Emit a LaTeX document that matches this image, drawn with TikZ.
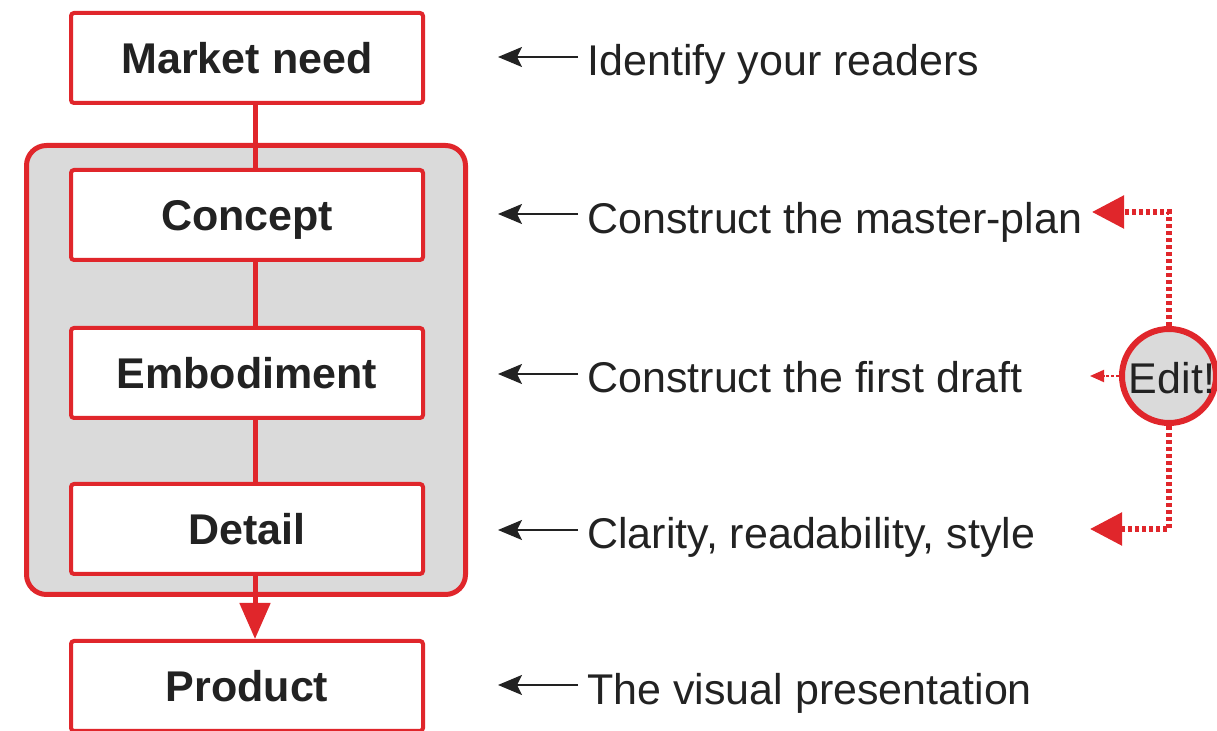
\documentclass[tikz,border=0pt]{standalone}
\usepackage{fontspec}
\setmainfont{Liberation Sans}
\usetikzlibrary{arrows.meta}
\definecolor{dred}{HTML}{E0262B}
\definecolor{lgrey}{HTML}{DADADA}
\definecolor{ink}{HTML}{222222}
\begin{document}
\begin{tikzpicture}[x=0.5pt,y=-0.5pt,
  stagebox/.style={draw=dred,line width=2pt,fill=white,rounded corners=1.5pt,
    minimum width=176pt,minimum height=45pt,inner sep=0pt,
    font=\fontsize{21.5}{24}\selectfont\bfseries,text=ink,
    text height=15.5pt,text depth=0pt},
  note/.style={anchor=west,inner sep=0pt,font=\fontsize{21.5}{24}\selectfont,
    text=ink,text height=15.4pt,text depth=0pt},
  pointer/.style={-{Stealth[length=12pt,width=10pt,inset=2.5pt]},line width=1pt,draw=ink,shorten <=4.5pt},
  spine/.style={draw=dred,line width=2.5pt},
  editline/.style={draw=dred,line width=2.75pt,dash pattern=on 2pt off 1.5pt,
    -{Triangle[length=16pt,width=16pt]}},
  groupbox/.style={draw=dred,line width=2.5pt,fill=lgrey,rounded corners=10pt,
    minimum width=219.5pt,minimum height=224.5pt,inner sep=0pt}
]
\useasboundingbox (0,0) rectangle (1217,731);

\node[groupbox] (group) at (246,370) {};

\node[stagebox] (market) at (247,58) {Market need};
\node[stagebox] (concept) at (247,215) {Concept};
\node[stagebox] (embodiment) at (247,373) {Embodiment};
\node[stagebox] (detail) at (247,529) {Detail};
\node[stagebox] (product) at (247,686) {Product};

\draw[spine] ([xshift=4pt]market.south) -- ([xshift=4pt]concept.north);
\draw[spine] ([xshift=4pt]concept.south) -- ([xshift=4pt]embodiment.north);
\draw[spine] ([xshift=4pt]embodiment.south) -- ([xshift=4pt]detail.north);
\draw[spine,-{Triangle[length=18pt,width=15pt]}] ([xshift=4pt]detail.south) -- ([xshift=4pt]product.north);

\node[note] (t1) at (587,60) {Identify your readers};
\node[note] (t2) at (587,218) {Construct the master-plan};
\node[note] (t3) at (587,377) {Construct the first draft};
\node[note] (t4) at (587,533) {Clarity, readability, style};
\node[note] (t5) at (587,689) {The visual presentation};

\coordinate (p1) at (498,57);
\coordinate (p2) at (498,214);
\coordinate (p3) at (498,374);
\coordinate (p4) at (498,530);
\coordinate (p5) at (498,685);
\draw[pointer] (t1.west |- p1) -- (p1);
\draw[pointer] (t2.west |- p2) -- (p2);
\draw[pointer] (t3.west |- p3) -- (p3);
\draw[pointer] (t4.west |- p4) -- (p4);
\draw[pointer] (t5.west |- p5) -- (p5);

\node[circle,draw=dred,line width=3pt,fill=lgrey,minimum size=47pt,inner sep=0pt] (edit) at (1169,376) {};
\node[font=\fontsize{21.5}{24}\selectfont,text=ink,inner sep=0pt,text height=15.4pt,text depth=0pt] (edittxt) at (1172,378) {Edit!};

\coordinate (e1) at (1092,212);
\coordinate (e2) at (1090,376);
\coordinate (e3) at (1090,529);
\draw[editline] (edit.north) |- (e1);
\draw[editline] (edit.south) |- (e3);
\draw[draw=dred,line width=1pt,dash pattern=on 1.5pt off 1pt,-{Triangle[length=7pt,width=6pt]}] (edit.west) -- (e2);
\end{tikzpicture}
\end{document}
